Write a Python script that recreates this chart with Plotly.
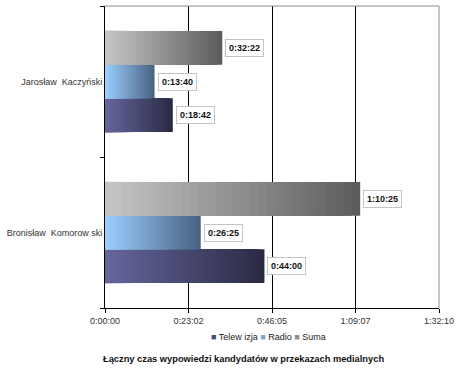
import plotly.graph_objects as go

# ---- data ----
candidates = ["Bronisław  Komorow ski", "Jarosław  Kaczyński"]
series_names = ["Telew izja", "Radio", "Suma"]
telewizja = ["0:44:00", "0:18:42"]
radio = ["0:26:25", "0:13:40"]
suma = ["1:10:25", "0:32:22"]
tick_labels = ["0:00:00", "0:23:02", "0:46:05", "1:09:07", "1:32:10"]


def to_sec(s):
    h, m, sec = (int(p) for p in s.split(":"))
    return h * 3600 + m * 60 + sec


# tick values: 1:32:10 split into 4 equal steps
axis_max = to_sec(tick_labels[-1])
tick_vals = [axis_max * i / 4 for i in range(5)]

# gradient colours (left -> right)
grad = {
    "Telew izja": ((0x66, 0x66, 0x9e), (0x2a, 0x2a, 0x44)),
    "Radio": ((0x9c, 0xcf, 0xff), (0x48, 0x62, 0x80)),
    "Suma": ((0xc6, 0xc6, 0xc6), (0x5c, 0x5c, 0x5c)),
}
legend_col = {"Telew izja": "#4a4a70", "Radio": "#7aa8cf", "Suma": "#8c8c8c"}

N = 30
fig = go.Figure()
all_series = [telewizja, radio, suma]


def mix(c1, c2, t):
    return "rgb(%d,%d,%d)" % tuple(round(a + (b - a) * t) for a, b in zip(c1, c2))


for k, (name, vals) in enumerate(zip(series_names, all_series)):
    secs = [to_sec(v) for v in vals]
    c1, c2 = grad[name]
    # full length bar
    fig.add_trace(go.Bar(
        y=candidates, x=secs, orientation="h", name=name,
        offsetgroup=str(k + 1), alignmentgroup="a",
        marker=dict(color=mix(c1, c2, 1.0), line=dict(width=0)),
        showlegend=False, hoverinfo="skip",
    ))
    # gradient overlay strips
    for i in range(1, N):
        frac = (N - i) / N
        fig.add_trace(go.Bar(
            y=candidates, x=[s * frac for s in secs], orientation="h",
            offsetgroup=str(k + 1), alignmentgroup="a",
            marker=dict(color=mix(c1, c2, frac - 0.5 / N), line=dict(width=0)),
            showlegend=False, hoverinfo="skip",
        ))

bargap = 0.33
annotations = []
offsets = [-(1 - bargap) / 3, 0, (1 - bargap) / 3]
for k, vals in enumerate(all_series):
    for ci, v in enumerate(vals):
        annotations.append(dict(
            x=to_sec(v), y=ci + offsets[k], xref="x", yref="y",
            text="<b>%s</b>" % v, showarrow=False, xanchor="left",
            xshift=3, font=dict(size=9, color="#111", family="Liberation Sans, Arial"),
            bgcolor="white", bordercolor="#c4c4c4", borderwidth=1, borderpad=3,
        ))

# legend as text
legend_text = " ".join(
    "<span style='color:%s'>■</span> %s" % (legend_col[n], n) for n in series_names
)
annotations.append(dict(
    x=268, y=337, xref="paper", yref="paper", showarrow=False,
    text=legend_text, xanchor="center", yanchor="middle",
    font=dict(size=9, color="#222", family="Liberation Sans, Arial"),
))

annotations.append(dict(
    x=243, y=359, xref="paper", yref="paper", yanchor="middle",
    xanchor="center", showarrow=False,
    text="<b>Łączny czas wypowiedzi kandydatów w przekazach medialnych</b>",
    font=dict(size=9.3, color="#111", family="Liberation Sans, Arial"),
))

# convert pixel-based positions of the two text annotations to paper coords
L, R, T, B = 105, 21, 6, 60
pw, ph = 460 - L - R, 368 - T - B
for a in annotations[-2:]:
    a["x"] = (a["x"] - L) / pw
    a["y"] = (368 - B - a["y"]) / ph

fig.update_layout(
    width=460, height=368,
    margin=dict(l=L, r=R, t=T, b=B, autoexpand=False),
    paper_bgcolor="white", plot_bgcolor="white",
    barmode="group", bargap=bargap, bargroupgap=0,
    font=dict(family="Liberation Sans, Arial", size=9, color="#333"),
    showlegend=False,
    annotations=annotations,
    shapes=[
        dict(type="line", xref="paper", yref="paper", x0=0, x1=1, y0=1, y1=1,
             line=dict(color="#8a8a8a", width=1), layer="above"),
        dict(type="line", xref="paper", yref="paper", x0=1, x1=1, y0=0, y1=1,
             line=dict(color="#8a8a8a", width=1), layer="above"),
    ],
)
fig.update_xaxes(
    range=[0, axis_max], tickvals=tick_vals, ticktext=tick_labels,
    showgrid=True, gridcolor="black", gridwidth=1,
    showline=True, linecolor="black", linewidth=1,
    ticks="outside", ticklen=4, tickcolor="black", automargin=False,
    zeroline=False, tickfont=dict(size=9, color="#333"), fixedrange=True,
)
fig.update_yaxes(
    type="category", categoryorder="array", categoryarray=candidates,
    showline=True, linecolor="black", linewidth=1, automargin=False,
    ticks="outside", ticklen=4, tickcolor="black", tickson="boundaries",
    showgrid=False, tickfont=dict(size=9, color="#333"), fixedrange=True,
)

fig.write_html(
    "out.html",
    config={"displayModeBar": False},
    post_script="document.body.style.margin='0';",
)
